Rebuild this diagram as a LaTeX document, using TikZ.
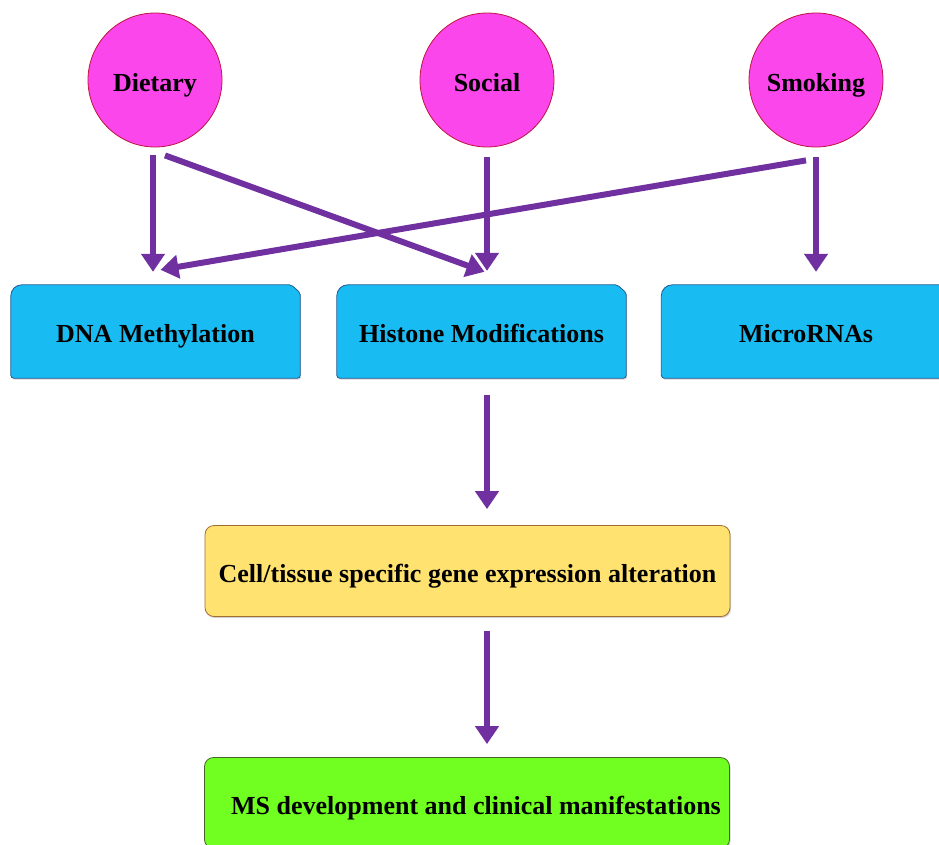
\documentclass[tikz,border=0pt]{standalone}
\usepackage{fontspec}
\setmainfont{Liberation Serif}
\usetikzlibrary{arrows.meta,backgrounds,shadows}

\definecolor{circpink}{RGB}{250,70,234}
\definecolor{circrim}{RGB}{190,20,60}
\definecolor{arrpurple}{RGB}{112,48,160}
\definecolor{boxblue}{RGB}{24,188,242}
\definecolor{bluerim}{RGB}{30,90,150}
\definecolor{boxyellow}{RGB}{255,226,112}
\definecolor{yellowrim}{RGB}{160,110,50}
\definecolor{boxgreen}{RGB}{112,255,32}
\definecolor{greenrim}{RGB}{70,100,40}

\newcommand{\labelfont}{\fontsize{26}{30}\selectfont\bfseries}

\begin{document}
\begin{tikzpicture}[x=1pt, y=-1pt,
		every node/.style={text height=24pt, text depth=2pt},
		factor/.style={circle, draw=circrim, line width=0.8pt, fill=circpink, minimum size=134pt, inner sep=0pt, font=\labelfont},
		epitext/.style={minimum width=289pt, minimum height=93pt, inner sep=0pt, font=\labelfont},
		epishape/.style={draw=bluerim, line width=0.8pt, fill=boxblue, drop shadow={shadow xshift=1pt, shadow yshift=-1.5pt, opacity=0.35}},
		outbox/.style={rounded corners=9pt, line width=0.8pt, minimum width=525pt, minimum height=91pt, inner sep=0pt, font=\labelfont, drop shadow={shadow xshift=1pt, shadow yshift=-1.5pt, opacity=0.35}},
		arr/.style={draw=arrpurple, line width=6pt, -{Triangle[width=23pt,length=18pt]}}
	]
				\path[use as bounding box] (0,0) rectangle (939,844);
				\clip (0,0) rectangle (939,844);

				% Factors
				\node[factor] (diet) at (155,80) {Dietary};
				\node[factor] (soc) at (487,80) {Social};
				\node[factor] (smoke) at (816,80) {Smoking};

				% Epigenetic mechanisms
				\node[epitext] (dna) at (155.5,331.5) {DNA Methylation};
				\node[epitext] (hist) at (481.5,331.5) {Histone Modifications};
				\node[epitext] (mirna) at (806,331.5) {MicroRNAs};
				\begin{pgfonlayer}{background}
					\foreach \b in {dna,hist,mirna}
						\draw[epishape] (\b.south west) [rounded corners=3pt] -- ([yshift=20pt]\b.west) [rounded corners=11pt] -- (\b.north west) [rounded corners=2pt] -- ([xshift=-9pt]\b.north east) -- ([yshift=-8pt]\b.north east) [rounded corners=3pt] -- (\b.south east) -- cycle;
				\end{pgfonlayer}

				% Outcome
				\node[outbox, fill=boxyellow, draw=yellowrim] (alter) at (467.5,571) {Cell/tissue specific gene expression alteration};
				\node[outbox, fill=boxgreen, draw=greenrim] (ms) at (467,803) {\hspace*{18pt}MS development and clinical manifestations};

				% Arrows from factors
				\draw[arr] ([xshift=-2pt,yshift=-8pt]diet.south) -- ([xshift=-2.5pt,yshift=13pt]dna.north);
				\draw[arr] ([xshift=10pt,yshift=-8pt]diet.south) -- ([xshift=3pt,yshift=13pt]hist.north);
				\draw[arr, shorten <=10pt, shorten >=14pt] (soc.south) -- (soc.south |- hist.north);
				\draw[arr] ([xshift=-10pt,yshift=-13pt]smoke.south) -- ([xshift=5pt,yshift=15pt]dna.north);
				\draw[arr, shorten <=10pt, shorten >=13pt] (smoke.south) -- (smoke.south |- mirna.north);

				% Arrows down
				\draw[arr, shorten <=17pt, shorten >=16pt] (soc |- hist.south) -- (soc |- alter.north);
				\draw[arr, shorten <=14pt, shorten >=13pt] (soc |- alter.south) -- (soc |- ms.north);
\end{tikzpicture}
\end{document}
